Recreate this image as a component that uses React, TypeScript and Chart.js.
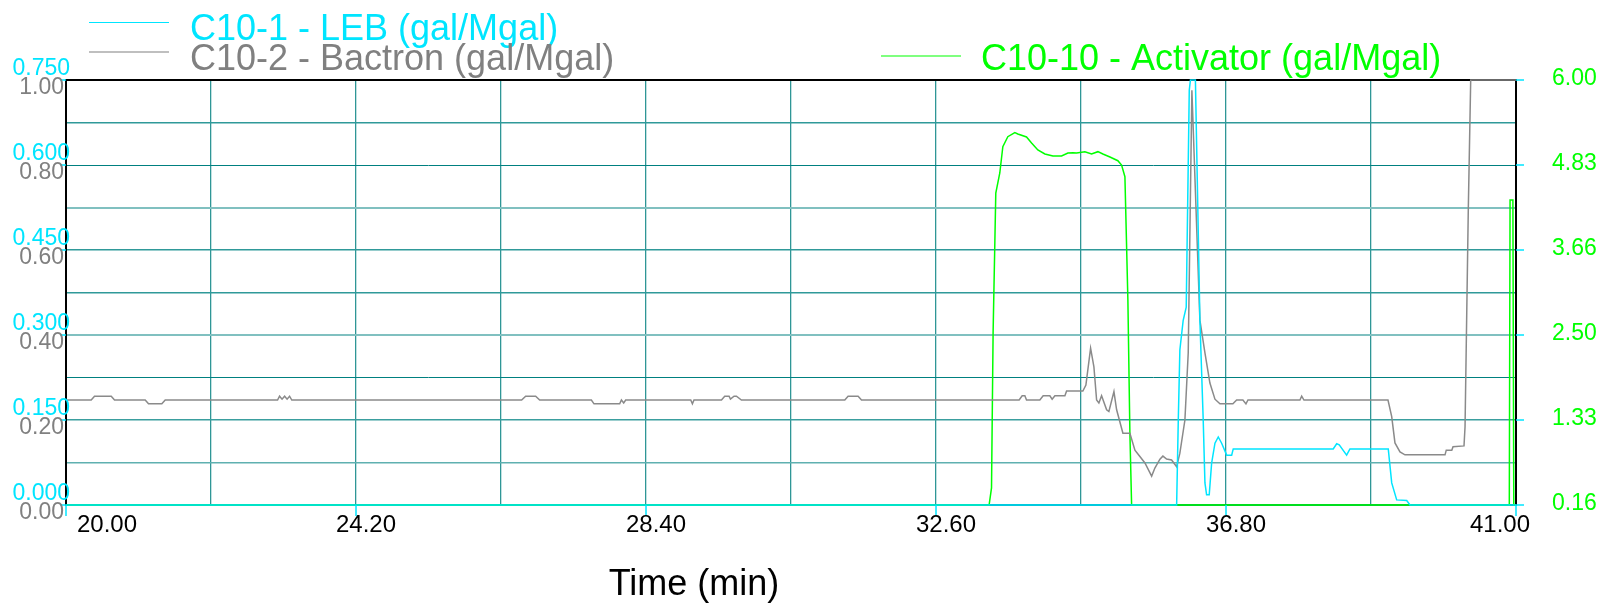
import React, { useEffect, useRef } from 'react';
import { Chart, registerables } from 'chart.js';

Chart.register(...registerables);

// ---------- data ----------
const seriesNames = ['C10-1 - LEB (gal/Mgal)', 'C10-2 - Bactron (gal/Mgal)', 'C10-10 - Activator (gal/Mgal)'];

const xGridValues = [20, 22.1, 24.2, 26.3, 28.4, 30.5, 32.6, 34.7, 36.8, 38.9, 41];
const xLabelValues = [20, 24.2, 28.4, 32.6, 36.8, 41];
const xLabelTexts = ['20.00', '24.20', '28.40', '32.60', '36.80', '41.00'];

const lebTickValues = [0, 0.15, 0.3, 0.45, 0.6, 0.75];
const lebTickTexts = ['0.000', '0.150', '0.300', '0.450', '0.600', '0.750'];
const bactronTickValues = [0, 0.2, 0.4, 0.6, 0.8, 1.0];
const bactronTickTexts = ['0.00', '0.20', '0.40', '0.60', '0.80', '1.00'];
const activatorTickValues = [0.16, 1.328, 2.496, 3.664, 4.832, 6.0];
const activatorTickTexts = ['0.16', '1.33', '2.50', '3.66', '4.83', '6.00'];

const lebTime = [20.0, 36.085, 36.109, 36.132, 36.18, 36.224, 36.268, 36.285, 36.357, 36.422, 36.47, 36.495, 36.519, 36.557, 36.592, 36.64, 36.688, 36.737, 36.81, 36.882, 36.905, 38.353, 38.403, 38.44, 38.547, 38.595, 39.15, 39.2, 39.272, 39.417, 39.465, 41.0];
const lebValue = [0, 0, 0.15, 0.274, 0.326, 0.349, 0.732, 0.75, 0.75, 0.326, 0.15, 0.039, 0.018, 0.018, 0.074, 0.109, 0.12, 0.109, 0.088, 0.088, 0.099, 0.099, 0.108, 0.106, 0.088, 0.099, 0.099, 0.039, 0.009, 0.008, 0, 0];

const bactronTime = [20.0, 20.365, 20.413, 20.655, 20.703, 21.147, 21.195, 21.388, 21.437, 23.064, 23.093, 23.129, 23.166, 23.202, 23.238, 23.27, 26.599, 26.657, 26.802, 26.86, 27.609, 27.647, 28.019, 28.044, 28.077, 28.106, 29.048, 29.072, 29.095, 29.493, 29.54, 29.603, 29.623, 29.675, 29.71, 29.782, 31.279, 31.327, 31.472, 31.521, 33.804, 33.848, 33.887, 33.911, 34.104, 34.152, 34.249, 34.282, 34.322, 34.467, 34.491, 34.727, 34.771, 34.839, 34.887, 34.926, 34.959, 34.998, 35.071, 35.104, 35.177, 35.216, 35.307, 35.408, 35.481, 35.553, 35.626, 35.723, 35.77, 35.843, 35.886, 35.94, 36.012, 36.085, 36.132, 36.205, 36.253, 36.306, 36.422, 36.495, 36.567, 36.64, 36.712, 36.9, 36.954, 37.045, 37.089, 37.118, 37.871, 37.896, 37.929, 39.146, 39.2, 39.247, 39.32, 39.392, 39.972, 39.99, 40.07, 40.088, 40.247, 40.262, 40.309, 40.344, 41.0];
const bactronValue = [0.247, 0.247, 0.256, 0.256, 0.247, 0.247, 0.238, 0.238, 0.247, 0.247, 0.256, 0.249, 0.256, 0.249, 0.256, 0.247, 0.247, 0.256, 0.256, 0.247, 0.247, 0.238, 0.238, 0.247, 0.24, 0.247, 0.247, 0.238, 0.247, 0.247, 0.256, 0.256, 0.249, 0.256, 0.256, 0.247, 0.247, 0.256, 0.256, 0.247, 0.247, 0.257, 0.257, 0.247, 0.247, 0.257, 0.257, 0.249, 0.257, 0.257, 0.268, 0.268, 0.282, 0.369, 0.325, 0.247, 0.24, 0.257, 0.224, 0.22, 0.267, 0.224, 0.169, 0.169, 0.129, 0.114, 0.099, 0.068, 0.087, 0.108, 0.115, 0.108, 0.106, 0.09, 0.122, 0.2, 0.358, 0.976, 0.435, 0.358, 0.287, 0.249, 0.238, 0.238, 0.247, 0.247, 0.238, 0.247, 0.247, 0.256, 0.247, 0.247, 0.208, 0.146, 0.125, 0.118, 0.118, 0.129, 0.129, 0.137, 0.139, 0.184, 0.694, 1.0, 1.0];

const activatorTime = [20.0, 33.369, 33.404, 33.427, 33.466, 33.524, 33.568, 33.64, 33.742, 33.785, 33.911, 33.984, 34.075, 34.177, 34.293, 34.419, 34.51, 34.583, 34.636, 34.756, 34.853, 34.945, 35.017, 35.119, 35.234, 35.288, 35.336, 35.379, 35.408, 35.433, 40.903, 40.914, 40.955, 40.968, 41.0];
const activatorValue = [0.16, 0.16, 0.394, 2.523, 4.447, 4.722, 5.083, 5.221, 5.276, 5.258, 5.217, 5.134, 5.038, 4.983, 4.955, 4.955, 4.997, 5.001, 4.997, 5.015, 4.983, 5.015, 4.983, 4.942, 4.891, 4.832, 4.671, 2.977, 1.149, 0.16, 0.16, 4.35, 4.35, 0.16, 0.16];

// ---------- styles ----------
const CYAN = '#00e5ff';
const GRAY = '#808080';
const GREEN = '#00ff00';
const FONT = "'Liberation Sans', Arial, Helvetica, sans-serif";

const hGridColors = ['#007b7b', '#5fb0b0', '#3a9e9e', '#008080', '#80c0c0', '#2f9999', '#2f9999', '#80c0c0', '#008080', '#2f9999', '#000000'];
const hGridWidths = [2, 1.5, 1.5, 1, 2, 1.5, 1.5, 2, 1, 1.5, 1];

const toPoints = (xs: number[], ys: number[]) => xs.map((x, i) => ({ x, y: ys[i] }));

const decorPlugin = {
  id: 'decor',
  beforeDatasetsDraw(chart: any) {
    const { ctx, chartArea: a } = chart;
    ctx.save();
    ctx.strokeStyle = '#000';
    ctx.lineWidth = 2;
    ctx.beginPath();
    ctx.moveTo(a.left, a.bottom + 1);
    ctx.lineTo(a.left, a.top);
    ctx.lineTo(a.right, a.top);
    ctx.lineTo(a.right, a.bottom + 1);
    ctx.stroke();
    ctx.restore();
  },
  afterDraw(chart: any) {
    const { ctx, chartArea: a } = chart;
    const xs = chart.scales.x;
    const yL = chart.scales.yLeb;
    const yB = chart.scales.yBac;
    const yA = chart.scales.yAct;
    ctx.save();

    const seg = (x1: number, y1: number, x2: number, y2: number) => {
      ctx.beginPath();
      ctx.moveTo(x1, y1);
      ctx.lineTo(x2, y2);
      ctx.stroke();
    };

    // tick marks
    ctx.strokeStyle = CYAN;
    ctx.lineWidth = 1.5;
    lebTickValues.forEach((v) => {
      const y = yL.getPixelForValue(v);
      seg(a.left - 6, y, a.left, y);
    });
    activatorTickValues.forEach((v) => {
      const y = yA.getPixelForValue(v);
      seg(a.right, y, a.right + 8, y);
    });
    xLabelValues.forEach((v) => {
      const x = xs.getPixelForValue(v);
      seg(x, a.bottom, x, a.bottom + 11);
    });

    // y labels
    ctx.font = `23px ${FONT}`;
    ctx.textBaseline = 'alphabetic';
    ctx.textAlign = 'right';
    ctx.fillStyle = GRAY;
    bactronTickValues.forEach((v, i) => {
      const y = yB.getPixelForValue(v);
      ctx.fillText(bactronTickTexts[i], a.left - 2, y + 14);
    });
    ctx.fillStyle = CYAN;
    lebTickValues.forEach((v, i) => {
      const y = yL.getPixelForValue(v);
      ctx.fillText(lebTickTexts[i], a.left + 4, y - 5.5);
    });
    ctx.textAlign = 'left';
    ctx.fillStyle = GREEN;
    activatorTickValues.forEach((v, i) => {
      const y = yA.getPixelForValue(v);
      ctx.fillText(activatorTickTexts[i], a.right + 36, y + 4.5);
    });

    // x labels
    ctx.font = `24px ${FONT}`;
    ctx.fillStyle = '#000';
    ctx.textAlign = 'left';
    xLabelValues.forEach((v, i) => {
      const t = xLabelTexts[i];
      const w = ctx.measureText(t).width;
      const cx = xs.getPixelForValue(v) + 10;
      let l = cx - w / 2;
      if (l < a.left + 11) l = a.left + 11;
      if (l + w > a.right + 14) l = a.right + 14 - w;
      ctx.fillText(t, l, a.bottom + 27);
    });

    // axis title
    ctx.font = `36px ${FONT}`;
    ctx.textAlign = 'center';
    ctx.fillText('Time (min)', a.left + 628, a.bottom + 90);

    // legend
    const legend = [
      { color: CYAN, lx: 89, ly: 22.5, tx: 190, ty: 39.5 },
      { color: GRAY, lx: 89, ly: 52, tx: 190, ty: 69.5 },
      { color: GREEN, lx: 881, ly: 56, tx: 981, ty: 70 },
    ];
    ctx.font = `36px ${FONT}`;
    ctx.textAlign = 'left';
    legend.forEach((e, i) => {
      ctx.strokeStyle = e.color;
      ctx.lineWidth = 1.2;
      seg(e.lx, e.ly, e.lx + 80, e.ly);
      ctx.fillStyle = e.color;
      ctx.fillText(seriesNames[i], e.tx, e.ty);
    });

    ctx.restore();
  },
};

export default function App() {
  const canvasRef = useRef<HTMLCanvasElement | null>(null);

  useEffect(() => {
    document.body.style.margin = '0';
    const canvas = canvasRef.current;
    if (!canvas) return;
    const chart = new Chart(canvas, {
      type: 'line',
      data: {
        datasets: [
          {
            label: seriesNames[0],
            data: toPoints(lebTime, lebValue),
            borderColor: CYAN,
            borderWidth: 1.5,
            yAxisID: 'yLeb',
            pointRadius: 0,
            tension: 0,
            clip: 4,
          },
          {
            label: seriesNames[1],
            data: toPoints(bactronTime, bactronValue),
            borderColor: '#8a8a8a',
            borderWidth: 1.5,
            yAxisID: 'yBac',
            pointRadius: 0,
            tension: 0,
            clip: 4,
          },
          {
            label: seriesNames[2],
            data: toPoints(activatorTime, activatorValue),
            borderColor: GREEN,
            borderWidth: 1.5,
            yAxisID: 'yAct',
            pointRadius: 0,
            tension: 0,
            clip: 4,
          },
        ] as any,
      },
      options: {
        responsive: false,
        devicePixelRatio: 1,
        animation: false,
        layout: { padding: { left: 66, right: 87, top: 80, bottom: 98 } },
        plugins: { legend: { display: false }, tooltip: { enabled: false } },
        scales: {
          x: {
            type: 'linear',
            min: 20,
            max: 41,
            afterBuildTicks: (axis: any) => {
              axis.ticks = xGridValues.map((v) => ({ value: v }));
            },
            ticks: { display: false },
            grid: { color: '#2f9696', lineWidth: 1.3, drawTicks: false },
            border: { display: false },
          },
          yBac: {
            type: 'linear',
            position: 'left',
            min: 0,
            max: 1,
            afterBuildTicks: (axis: any) => {
              axis.ticks = Array.from({ length: 11 }, (_, i) => ({ value: i / 10 }));
            },
            ticks: { display: false },
            grid: {
              drawTicks: false,
              color: (c: any) => hGridColors[c.index] ?? '#2f9999',
              lineWidth: (c: any) => hGridWidths[c.index] ?? 1,
            },
            border: { display: false },
          },
          yLeb: { type: 'linear', display: false, min: 0, max: 0.75 },
          yAct: { type: 'linear', display: false, min: 0.16, max: 6.0 },
        } as any,
      },
      plugins: [decorPlugin as any],
    });
    return () => chart.destroy();
  }, []);

  return (
    <div style={{ width: 1603, height: 603, background: '#fff' }}>
      <canvas ref={canvasRef} width={1603} height={603} style={{ display: 'block' }} />
    </div>
  );
}
